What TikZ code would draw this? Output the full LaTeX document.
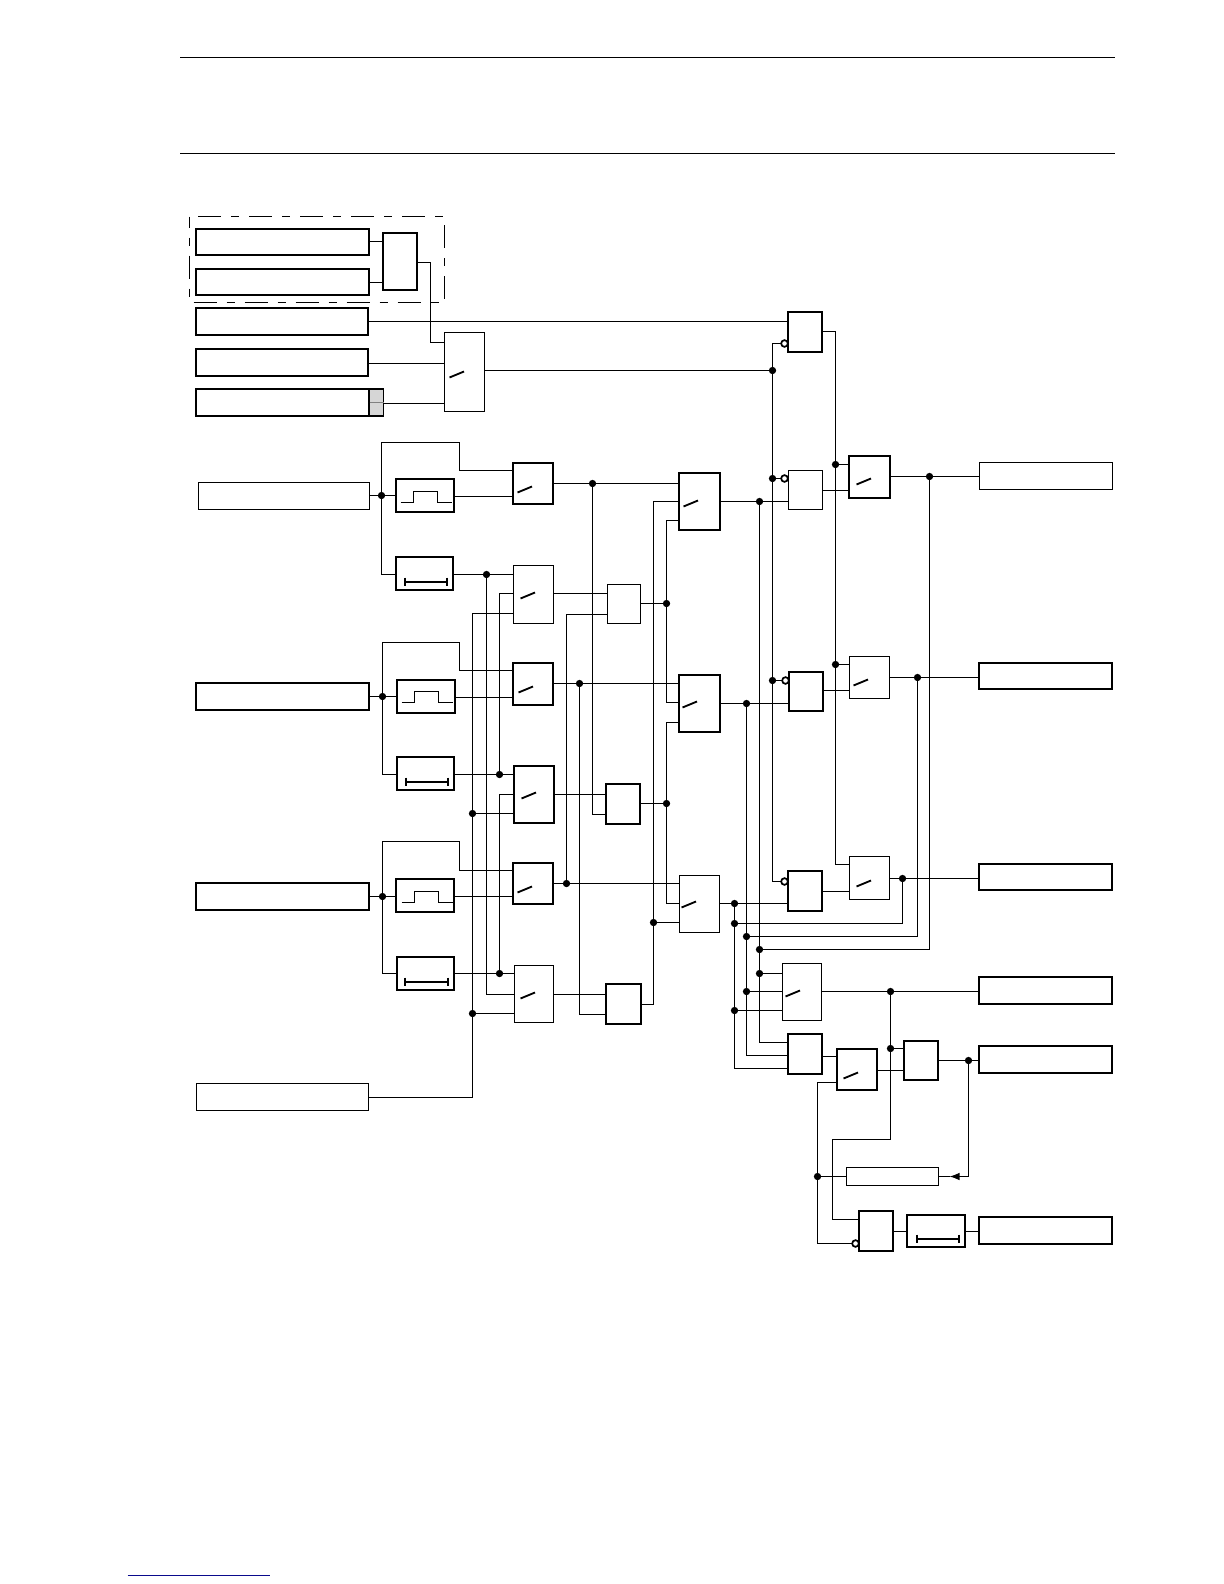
\documentclass[tikz,border=0pt]{standalone}
\usetikzlibrary{arrows.meta}
\tikzset{
  wire/.style={line width=0.64pt,line join=miter},
  heavy/.style={draw,line width=1.2pt,inner sep=0pt,outer sep=0pt,xshift=-0.3pt,yshift=0.3pt},
  light/.style={draw,line width=0.85pt,inner sep=0pt,outer sep=0pt},
  jdot/.style={circle,fill=black,inner sep=0pt,outer sep=0pt,minimum size=4.4pt},
  bubble/.style={circle,draw,fill=white,line width=1.05pt,inner sep=0pt,outer sep=0pt,minimum size=4pt},
  rule/.style={line width=0.8pt},
  symb/.style={line width=0.64pt},
  slashmark/.style={line width=1.1pt},
  barmark/.style={line width=1.2pt}
}
% box from pixel corners: style, name, x1, y1, x2, y2
\newcommand\bx[6]{\node[#1,minimum width={(#5-#3)*0.6pt},minimum height={(#6-#4)*0.6pt}] (#2) at ({(#3+#5)/2},{(#4+#6)/2}) {};}
\newcommand\jn[3]{\node[jdot] (#1) at (#2,#3) {};}
\newcommand\swmark[2]{\draw[slashmark] (#1,#2) -- ++(14.5,-6);}
\newcommand\pulsemark[2]{\draw[symb] (#1,#2) -- ++(13,0) -- ++(0,-11) -- ++(24,0) -- ++(0,11) -- ++(14,0);}
\newcommand\barsym[3]{\draw[barmark] (#1,#3) -- (#2,#3);\draw[barmark] (#1,#3-4) -- (#1,#3+4);\draw[barmark] (#2,#3-4) -- (#2,#3+4);}
\begin{document}
\begin{tikzpicture}[x=0.6pt,y=-0.6pt]
\useasboundingbox (0,0) rectangle (1224,1584);
\fill[white] (0,0) rectangle (1224,1584);
\begin{scope}[xshift=0.3pt,yshift=-0.3pt]
% page rules
\coordinate (r1a) at (179.5,57); \coordinate (r1b) at (1114.5,57);
\coordinate (r2a) at (179.5,153); \coordinate (r2b) at (1114.5,153);
\coordinate (r3a) at (127,1575); \coordinate (r3b) at (269,1575);
\draw[rule] (r1a) -- (r1b);
\draw[rule] (r2a) -- (r2b);
\draw[line width=0.8pt,color={rgb,255:red,10;green,10;blue,140}] (r3a) -- (r3b);
% dash-dot frame
\draw[line width=0.62pt,dash pattern=on 13.8pt off 6pt on 4.8pt off 6pt,dash phase=7.2pt] (189,216) rectangle (444,302);
% input boxes
\bx{heavy}{A1}{196}{229}{369}{255}
\bx{heavy}{A2}{196}{269}{369}{295}
\bx{heavy}{Or0}{383}{233}{417}{290}
\bx{heavy}{A3}{196}{308}{368}{335}
\bx{heavy}{A4}{196}{349}{368}{376}
\bx{heavy}{A5}{196}{389}{369}{416}
\node[draw,line width=0.64pt,inner sep=0pt,outer sep=0pt,fill=gray!32,minimum width=8.4pt,minimum height=16.2pt] (H5) at (376,402) {};
\draw[line width=0.5pt,color=gray] (H5.west) -- (H5.east);
\bx{light}{I1}{198}{482}{369}{509}
\bx{heavy}{I2}{196}{683}{369}{710}
\bx{heavy}{I3}{196}{883}{369}{910}
\bx{light}{I4}{196}{1083}{368}{1110}
% pulse and timer blocks
\bx{heavy}{P1}{396}{479}{454}{512} \pulsemark{400}{502}
\bx{heavy}{L1}{396}{557}{453}{590} \barsym{404}{446}{581}
\bx{heavy}{P2}{397}{680}{455}{713} \pulsemark{401}{702}
\bx{heavy}{L2}{397}{757}{454}{790} \barsym{405}{447}{781}
\bx{heavy}{P3}{396}{879}{454}{912} \pulsemark{401}{902}
\bx{heavy}{L3}{397}{957}{454}{990} \barsym{404}{447}{981}
% switches
\bx{light}{S0}{444}{332}{484}{411} \swmark{449}{377}
\bx{heavy}{Sw1}{513}{463}{553}{504} \swmark{517}{492}
\bx{light}{Sw2}{513}{565}{553}{623} \swmark{520}{598}
\bx{heavy}{Sw3}{513}{663}{553}{705} \swmark{518}{692}
\bx{heavy}{Sw4}{514}{766}{554}{823} \swmark{521}{798}
\bx{heavy}{Sw5}{513}{863}{553}{904} \swmark{517}{892}
\bx{light}{Sw6}{514}{965}{553}{1022} \swmark{520}{998}
\bx{heavy}{M1}{679}{473}{720}{530} \swmark{683}{506}
\bx{heavy}{M2}{679}{675}{720}{732} \swmark{682}{707}
\bx{light}{M3}{679}{875}{719}{932} \swmark{681}{907}
\bx{heavy}{S1}{849}{456}{890}{498} \swmark{856}{484}
\bx{light}{S2}{849}{656}{889}{698} \swmark{853}{685}
\bx{light}{S3}{849}{856}{889}{899} \swmark{856}{886}
\bx{light}{S4}{782}{963}{821}{1020} \swmark{785}{996}
\bx{heavy}{S5}{837}{1049}{877}{1090} \swmark{843}{1078}
% gates
\bx{light}{N1}{607}{584}{640}{623}
\bx{heavy}{N2}{606}{784}{640}{824}
\bx{heavy}{N3}{606}{984}{641}{1024}
\bx{heavy}{G0}{788}{312}{822}{352}
\bx{light}{G1}{788}{470}{822}{509}
\bx{heavy}{G2}{789}{672}{823}{711}
\bx{heavy}{G3}{788}{871}{822}{911}
\bx{heavy}{G4}{788}{1034}{822}{1074}
\bx{heavy}{G5}{904}{1041}{938}{1080}
\bx{heavy}{G6}{859}{1211}{893}{1251}
\bx{light}{R}{846}{1167}{938}{1185}
\bx{heavy}{T}{907}{1215}{965}{1247} \barsym{916}{958}{1238}
% outputs
\bx{light}{O1}{979}{462}{1112}{489}
\bx{heavy}{O2}{979}{663}{1112}{689}
\bx{heavy}{O3}{979}{864}{1112}{890}
\bx{heavy}{O4}{979}{977}{1112}{1004}
\bx{heavy}{O5}{979}{1046}{1112}{1073}
\bx{heavy}{O6}{979}{1217}{1112}{1244}
% bubbles
\node[bubble] (b0) at (784,343) {};
\node[bubble] (b1) at (784,478) {};
\node[bubble] (b2) at (785,680) {};
\node[bubble] (b3) at (784,881) {};
\node[bubble] (b6) at (855,1243) {};
% junctions
\jn{Jin1}{381}{495} \jn{Jin2}{382}{696} \jn{Jin3}{382}{896}
\jn{Jl1}{486}{574} \jn{Jl2}{499}{774} \jn{Jl3}{499}{973}
\jn{Jc1}{472}{813} \jn{Jc2}{472}{1013}
\jn{Jp1}{592}{483} \jn{Jp2}{579}{683} \jn{Jp3}{566}{883}
\jn{Jn1}{666}{603} \jn{Jn2}{666}{803} \jn{Jn3}{653}{922}
\jn{J0}{772}{370} \jn{J1}{772}{478} \jn{J2}{772}{680}
\jn{Ja}{835}{464} \jn{Jb}{835}{664}
\jn{Jm1}{759}{501} \jn{Jm2}{746}{703} \jn{Jm3}{734}{903}
\jn{Je}{902}{878} \jn{Jd}{917}{677} \jn{Jf}{929}{476}
\jn{Ji}{734}{923} \jn{Jh}{746}{936} \jn{Jg}{759}{949}
\jn{Jsa}{759}{973} \jn{Jsb}{746}{991} \jn{Jsc}{734}{1010}
\jn{Jo4}{890}{991} \jn{Jo5}{890}{1048} \jn{Jo6}{968}{1060} \jn{Jr}{817}{1176}
% top group wires
\begin{scope}[wire]
\draw (A1.east |- 0,241) -- (Or0.west |- 0,241);
\draw (A2.east |- 0,282) -- (Or0.west |- 0,282);
\draw (Or0.east |- 0,262) -| (430,342) -- (S0.west |- 0,342);
\draw (A3.east |- 0,321) -- (G0.west |- 0,321);
\draw (A4.east |- 0,363) -- (S0.west |- 0,363);
\draw (H5.east |- 0,403) -- (S0.west |- 0,403);
\draw (S0.east |- J0) -- (J0.center);
% gates to second-stage switches
\draw (b0.west) -| (J0.center) -- (J1.center) -- (J2.center) |- (b3.west);
\draw (J1.center) -- (b1.west);
\draw (J2.center) -- (b2.west);
\draw (G0.east |- 0,331) -| (Ja.center) -- (Jb.center) |- (S3.west |- 0,864);
\draw (Ja.center) -- (S1.west |- Ja);
\draw (Jb.center) -- (S2.west |- Jb);
\draw (G1.east |- 0,490) -- (S1.west |- 0,490);
\draw (G2.east |- 0,690) -- (S2.west |- 0,690);
\draw (G3.east |- 0,891) -- (S3.west |- 0,891);
\draw (S1.east |- Jf) -- (Jf.center) -- (O1.west |- Jf);
\draw (S2.east |- Jd) -- (Jd.center) -- (O2.west |- Jd);
\draw (S3.east |- Je) -- (Je.center) -- (O3.west |- Je);
\draw (Jf.center) |- (Jg.center);
\draw (Jd.center) |- (Jh.center);
\draw (Je.center) |- (Ji.center);
% mux outputs
\draw (M1.east |- Jm1) -- (Jm1.center) -- (G1.west |- Jm1);
\draw (M2.east |- Jm2) -- (Jm2.center) -- (G2.west |- Jm2);
\draw (M3.east |- Jm3) -- (Jm3.center) -- (G3.west |- Jm3);
\draw (Jm1.center) -- (Jg.center) -- (Jsa.center) |- (G4.west |- 0,1042);
\draw (Jm2.center) -- (Jh.center) -- (Jsb.center) |- (G4.west |- 0,1055);
\draw (Jm3.center) -- (Ji.center) -- (Jsc.center) |- (G4.west |- 0,1068);
\draw (Jsa.center) -- (S4.west |- Jsa);
\draw (Jsb.center) -- (S4.west |- Jsb);
\draw (Jsc.center) -- (S4.west |- Jsc);
% output stage
\draw (S4.east |- Jo4) -- (Jo4.center) -- (O4.west |- Jo4);
\draw (G4.east |- 0,1056) -- (S5.west |- 0,1056);
\draw (S5.east |- 0,1070) -- (G5.west |- 0,1070);
\draw (Jo5.center) -- (G5.west |- Jo5);
\draw (Jo4.center) -- (Jo5.center) |- (832,1139) |- (G6.west |- 0,1219);
\draw (G5.east |- Jo6) -- (Jo6.center) -- (O5.west |- Jo6);
\draw[-{Latex[length=6pt,width=4.5pt]}] (Jo6.center) |- (949,1176);
\draw (949,1176) -- (R.east);
\draw (Jr.center) -- (R.west);
\draw (S5.west |- 0,1082) -| (Jr.center) |- (b6.west);
\draw (G6.east |- 0,1231) -- (T.west |- 0,1231);
\draw (T.east |- 0,1231) -- (O6.west |- 0,1231);
% row 1
\draw (I1.east |- Jin1) -- (Jin1.center) -- (P1.west |- Jin1);
\draw (Jin1.center) -- (381,442) -| (459,470) -- (Sw1.west |- 0,470);
\draw (Jin1.center) |- (L1.west |- 0,574);
\draw (P1.east |- 0,496) -- (Sw1.west |- 0,496);
\draw (L1.east |- Jl1) -- (Jl1.center) -- (Sw2.west |- Jl1);
% row 2
\draw (I2.east |- Jin2) -- (Jin2.center) -- (P2.west |- Jin2);
\draw (Jin2.center) -- (382,642) -| (459,670) -- (Sw3.west |- 0,670);
\draw (Jin2.center) |- (L2.west |- 0,774);
\draw (P2.east |- 0,697) -- (Sw3.west |- 0,697);
\draw (L2.east |- Jl2) -- (Jl2.center) -- (Sw4.west |- Jl2);
% row 3
\draw (I3.east |- Jin3) -- (Jin3.center) -- (P3.west |- Jin3);
\draw (Jin3.center) -- (382,841) -| (459,870) -- (Sw5.west |- 0,870);
\draw (Jin3.center) |- (L3.west |- 0,973);
\draw (P3.east |- 0,896) -- (Sw5.west |- 0,896);
\draw (L3.east |- Jl3) -- (Jl3.center) -- (Sw6.west |- Jl3);
% cross-connections between rows
\draw (Jl1.center) |- (Sw6.west |- 0,994);
\draw (Jl2.center) |- (Sw2.west |- 0,593);
\draw (Jl3.center) |- (Sw4.west |- 0,794);
\draw (Sw2.west |- 0,613) -| (Jc1.center) -- (Jc2.center) |- (I4.east |- 0,1097);
\draw (Jc1.center) -- (Sw4.west |- Jc1);
\draw (Jc2.center) -- (Sw6.west |- Jc2);
% switch outputs
\draw (Sw1.east |- Jp1) -- (Jp1.center) -- (M1.west |- Jp1);
\draw (Sw3.east |- Jp2) -- (Jp2.center) -- (M2.west |- Jp2);
\draw (Sw5.east |- Jp3) -- (Jp3.center) -- (M3.west |- Jp3);
\draw (Jp1.center) |- (N2.west |- 0,814);
\draw (Jp2.center) |- (N3.west |- 0,1014);
\draw (Jp3.center) |- (N1.west |- 0,614);
\draw (Sw2.east |- 0,593) -- (N1.west |- 0,593);
\draw (Sw4.east |- 0,794) -- (N2.west |- 0,794);
\draw (Sw6.east |- 0,994) -- (N3.west |- 0,994);
% gate outputs to muxes
\draw (N1.east |- Jn1) -- (Jn1.center);
\draw (N2.east |- Jn2) -- (Jn2.center);
\draw (N3.east |- 0,1004) -| (Jn3.center) |- (M1.west |- 0,501);
\draw (Jn3.center) -- (M3.west |- Jn3);
\draw (Jn1.center) |- (M1.west |- 0,520);
\draw (Jn1.center) |- (M2.west |- 0,702);
\draw (Jn2.center) |- (M2.west |- 0,722);
\draw (Jn2.center) |- (M3.west |- Jm3);
\end{scope}
\end{scope}
\end{tikzpicture}
\end{document}
